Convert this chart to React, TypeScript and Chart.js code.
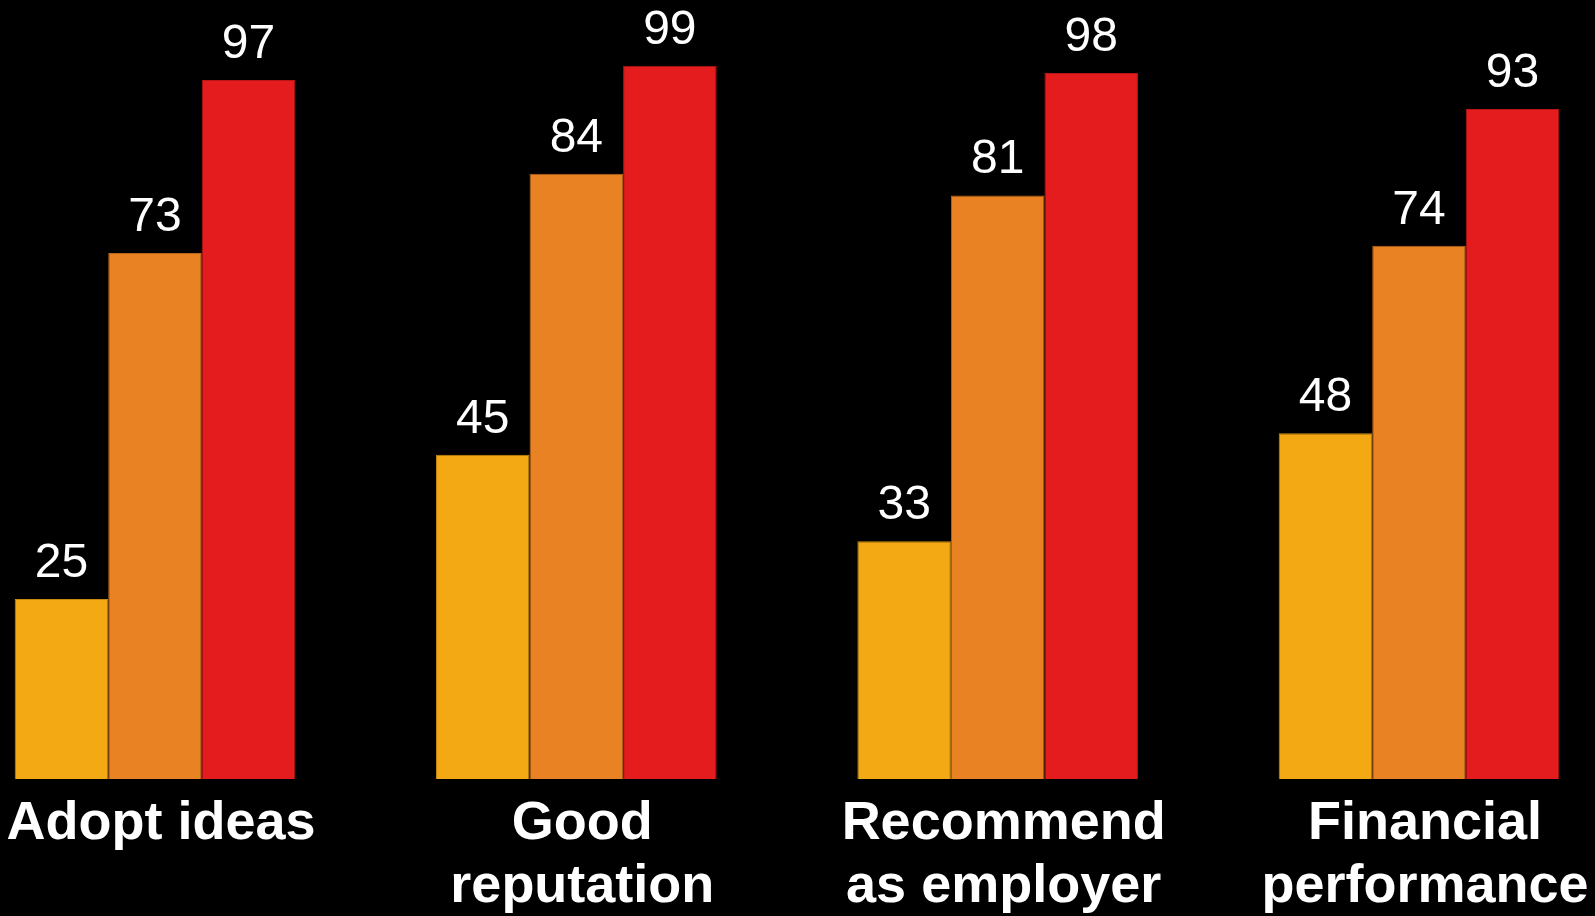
import React, { useEffect, useRef } from "react";
import { Chart, registerables } from "chart.js";

Chart.register(...registerables);

// Categories (multi-line labels are arrays)
const categories: (string | string[])[] = [
  "Adopt ideas",
  ["Good", "reputation"],
  ["Recommend", "as employer"],
  ["Financial", "performance"],
];

// Three groups of respondents
const lowValues = [25, 45, 33, 48];
const midValues = [73, 84, 81, 74];
const highValues = [97, 99, 98, 93];

const seriesNames = ["Low", "Medium", "High"];

const FONT = '"Liberation Sans", Arial, Helvetica, sans-serif';

// Writes each bar's value just above it
const valueLabels = {
  id: "valueLabels",
  afterDatasetsDraw(chart: Chart) {
    const ctx = chart.ctx;
    ctx.save();
    ctx.fillStyle = "#ffffff";
    ctx.font = `48px ${FONT}`;
    ctx.textAlign = "center";
    ctx.textBaseline = "alphabetic";
    chart.data.datasets.forEach((ds, di) => {
      const meta = chart.getDatasetMeta(di);
      meta.data.forEach((el: any, i: number) => {
        const v = ds.data[i] as number;
        ctx.fillText(String(v), el.x, el.y - 22);
      });
    });
    ctx.restore();
  },
};

export default function App() {
  const canvasRef = useRef<HTMLCanvasElement | null>(null);

  useEffect(() => {
    document.body.style.margin = "0";
    document.body.style.background = "#000";
    const canvas = canvasRef.current;
    if (!canvas) return;

    const chart = new Chart(canvas, {
      type: "bar",
      data: {
        labels: categories,
        datasets: [
          {
            label: seriesNames[0],
            data: lowValues,
            backgroundColor: "#F3A913",
            borderColor: "#C98A10",
            borderWidth: 1,
            clip: false as any,
          },
          {
            label: seriesNames[1],
            data: midValues,
            backgroundColor: "#E98222",
            borderColor: "#B8651A",
            borderWidth: 1,
            clip: false as any,
          },
          {
            label: seriesNames[2],
            data: highValues,
            backgroundColor: "#E51C1D",
            borderColor: "#B81616",
            borderWidth: 1,
            clip: false as any,
          },
        ],
      },
      options: {
        responsive: false,
        animation: false,
        devicePixelRatio: 1,
        layout: {
          padding: { left: 155, right: 176, top: 58.5, bottom: -16 },
        },
        datasets: {
          bar: {
            categoryPercentage: 0.666,
            barPercentage: 1,
          },
        },
        plugins: {
          legend: { display: false },
          tooltip: { enabled: false },
        },
        scales: {
          x: {
            offset: false,
            grid: { display: false, drawTicks: false, offset: false },
            border: { display: false },
            // keep the plot edges fixed by the layout padding alone
            afterFit: (scale: any) => {
              scale.paddingLeft = 0;
              scale.paddingRight = 0;
            },
            ticks: {
              color: "#ffffff",
              padding: 13,
              labelOffset: 6,
              maxRotation: 0,
              autoSkip: false,
              font: { family: FONT, size: 54, weight: "bold", lineHeight: 1.175 },
            },
          },
          y: {
            display: false,
            min: 0,
            max: 100,
          },
        },
      },
      plugins: [valueLabels],
    });

    return () => chart.destroy();
  }, []);

  return (
    <div style={{ width: 1595, height: 916, background: "#000" }}>
      <canvas ref={canvasRef} width={1595} height={916} style={{ display: "block" }} />
    </div>
  );
}
